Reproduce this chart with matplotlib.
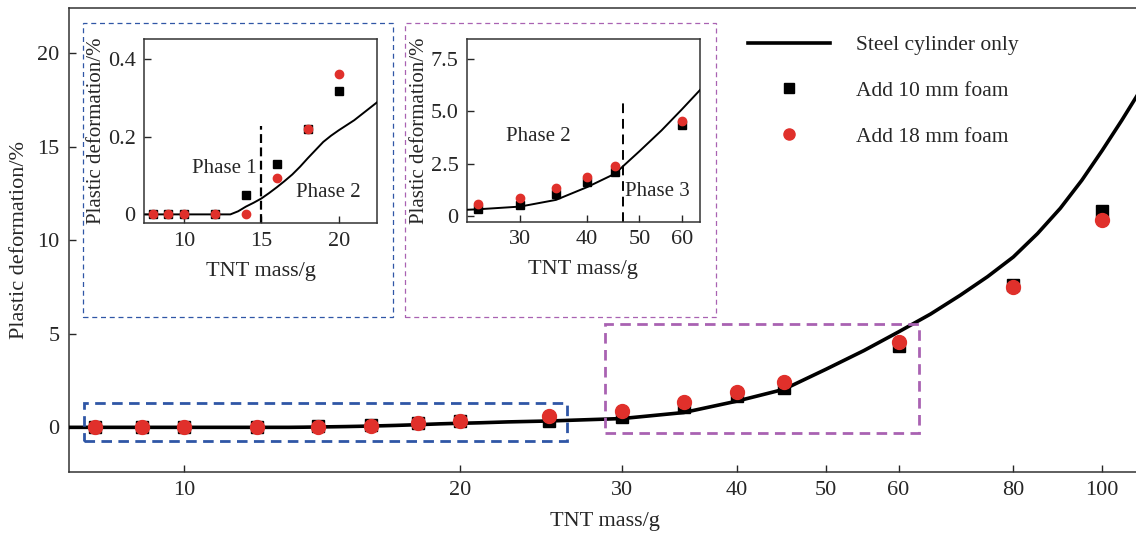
import matplotlib
matplotlib.use("Agg")
import matplotlib.pyplot as plt
import matplotlib.ticker as ticker
from matplotlib.patches import Rectangle

plt.rcParams['font.family'] = ['Liberation Serif', 'DejaVu Serif']
plt.rcParams['font.size'] = 16
plt.rcParams['text.color'] = '#262626'
plt.rcParams['axes.labelcolor'] = '#262626'
plt.rcParams['xtick.color'] = '#262626'
plt.rcParams['ytick.color'] = '#262626'

# test data: TNT mass (g) and plastic deformation (%)
mass = [8, 9, 10, 12, 14, 16, 18, 20, 25, 30, 35, 40, 45, 60, 80, 100]
foam_10mm = [0, 0, 0, 0, 0.049, 0.131, 0.22, 0.318, 0.35, 0.56, 1.08, 1.65, 2.10, 4.35, 7.62, 11.58]
foam_18mm = [0, 0, 0, 0, 0.0, 0.095, 0.221, 0.361, 0.60, 0.86, 1.35, 1.90, 2.42, 4.55, 7.48, 11.08]

# steel cylinder only curve
curve_mass = [7.5, 13, 13.5, 14, 14.5, 15, 15.5, 16, 16.5, 17, 17.5, 18, 18.5, 19, 19.5, 20, 21, 22.5,
              25, 30, 35, 40, 45, 50, 55, 60, 65, 70, 75, 80, 85, 90, 95, 100, 105, 110]
steel_only = [0, 0, 0.008, 0.02, 0.03, 0.041, 0.055, 0.07, 0.086, 0.103, 0.123, 0.145, 0.166, 0.187,
              0.203, 0.217, 0.243, 0.29, 0.34, 0.47, 0.79, 1.40, 2.03, 3.10, 4.10, 5.10, 6.05, 7.05,
              8.05, 9.10, 10.35, 11.70, 13.20, 14.80, 16.40, 18.0]

main_xticks = [10, 20, 30, 40, 50, 60, 80, 100]
main_yticks = [0, 5, 10, 15, 20]
inset1_xticks = [10, 15, 20]
inset1_yticks = [0, 0.2, 0.4]
inset2_xticks = [30, 40, 50, 60]
inset2_yticks = [0, 2.5, 5.0, 7.5]
inset2_ylabels = ['0', '2.5', '5.0', '7.5']

phase12_mass = 15
phase23_mass = 46.7

RED = '#e0302b'
BLUE = '#2f56a6'
PURPLE = '#a962b2'
SPINE = '#333333'

W, H = 1136, 536
fig = plt.figure(figsize=(W / 100, H / 100), dpi=100)


def px_rect(x0, y0, x1, y1):
    # pixel box (top-left origin) -> figure fraction rect
    return [x0 / W, 1 - y1 / H, (x1 - x0) / W, (y1 - y0) / H]


def style_axes(ax):
    for s in ax.spines.values():
        s.set_color(SPINE)
        s.set_linewidth(1.1)
    ax.tick_params(direction='in', length=5, width=1.0, top=False, right=False)


ax = fig.add_axes(px_rect(69.3, 7.5, 1140.3, 471.7))
ax.plot(curve_mass, steel_only, color='black', lw=2.6, zorder=3, label='Steel cylinder only')
ax.plot(mass, foam_10mm, 's', color='black', ms=8.5, ls='none', zorder=4, label='Add 10 mm foam')
ax.plot(mass, foam_18mm, 'o', color=RED, ms=10, ls='none', zorder=5, label='Add 18 mm foam')
ax.set_xscale('log')
ax.set_xlim(7.5, 110)
ax.set_ylim(-2.37, 22.43)
ax.xaxis.set_major_locator(ticker.FixedLocator(main_xticks))
ax.xaxis.set_major_formatter(ticker.FixedFormatter([str(t) for t in main_xticks]))
ax.xaxis.set_minor_locator(ticker.NullLocator())
ax.set_yticks(main_yticks)
ax.set_xlabel('TNT mass/g', labelpad=8)
ax.set_ylabel('Plastic deformation/%', labelpad=6)
style_axes(ax)
ax.tick_params(pad=7)

# highlighted regions in the main plot
ax.add_patch(Rectangle((7.78, -0.73), 26.1 - 7.78, 1.3 + 0.73, fill=False, ec=BLUE,
                       lw=2.0, ls=(0, (3.8, 2.3)), zorder=6))
ax.add_patch(Rectangle((28.75, -0.3), 63.2 - 28.75, 5.5 + 0.3, fill=False, ec=PURPLE,
                       lw=2.0, ls=(0, (3.8, 2.3)), zorder=6))

leg = ax.legend(loc='upper left', bbox_to_anchor=(748 / W, 1 - 35 / H), bbox_transform=fig.transFigure,
                frameon=False, handlelength=3.8, handletextpad=1.2, labelspacing=1.2,
                borderpad=0, borderaxespad=0, fontsize=15.5, markerscale=0.8)

# thin dashed frames around the insets
fig.patches.append(Rectangle((82.7 / W, 1 - 317.3 / H), (393.3 - 82.7) / W, (317.3 - 22.7) / H,
                             transform=fig.transFigure, fill=False, ec=BLUE, lw=0.9,
                             ls=(0, (4, 3)), zorder=7))
fig.patches.append(Rectangle((405 / W, 1 - 316.7 / H), (716 - 405) / W, (316.7 - 22.7) / H,
                             transform=fig.transFigure, fill=False, ec=PURPLE, lw=0.9,
                             ls=(0, (4, 3)), zorder=7))

# inset 1: phase 1 -> phase 2
in1 = fig.add_axes(px_rect(144, 39, 377, 223.3))
in1.set_zorder(8)
in1.plot(curve_mass, steel_only, color='black', lw=1.4, zorder=3)
in1.plot(mass, foam_10mm, 's', color='black', ms=5.5, zorder=4)
in1.plot(mass, foam_18mm, 'o', color=RED, ms=6, zorder=5)
in1.axvline(phase12_mass, ymax=0.53, color='black', lw=1.6, ls=(0, (4, 2)))
in1.set_xlim(7.42, 22.47)
in1.set_ylim(-0.023, 0.4525)
in1.set_xticks(inset1_xticks)
in1.set_yticks(inset1_yticks)
in1.set_yticklabels(['0', '0.2', '0.4'])
in1.text(12.6, 0.119, 'Phase 1', ha='center', va='center', fontsize=15)
in1.text(19.3, 0.057, 'Phase 2', ha='center', va='center', fontsize=15)
in1.set_xlabel('TNT mass/g', labelpad=8)
in1.set_ylabel('Plastic deformation/%', fontsize=15, labelpad=1)
style_axes(in1)
in1.tick_params(pad=6)

# inset 2: phase 2 -> phase 3
in2 = fig.add_axes(px_rect(467, 39, 699.5, 221.5))
in2.set_zorder(8)
in2.plot(curve_mass, steel_only, color='black', lw=1.4, zorder=3)
in2.plot(mass, foam_10mm, 's', color='black', ms=5.5, zorder=4)
in2.plot(mass, foam_18mm, 'o', color=RED, ms=6, zorder=5)
in2.axvline(phase23_mass, ymax=0.67, color='black', lw=1.4, ls=(0, (5, 3)))
in2.set_xscale('log')
in2.set_xlim(23.9, 64.7)
in2.set_ylim(-0.24, 8.45)
in2.xaxis.set_major_locator(ticker.FixedLocator(inset2_xticks))
in2.xaxis.set_major_formatter(ticker.FixedFormatter([str(t) for t in inset2_xticks]))
in2.xaxis.set_minor_locator(ticker.NullLocator())
in2.set_yticks(inset2_yticks)
in2.set_yticklabels(inset2_ylabels)
in2.text(32.4, 3.83, 'Phase 2', ha='center', va='center', fontsize=15)
in2.text(54.0, 1.17, 'Phase 3', ha='center', va='center', fontsize=15)
in2.set_xlabel('TNT mass/g', labelpad=8)
in2.set_ylabel('Plastic deformation/%', fontsize=15, labelpad=1)
style_axes(in2)
in2.tick_params(pad=6)

fig.savefig('out.png', dpi=100)
